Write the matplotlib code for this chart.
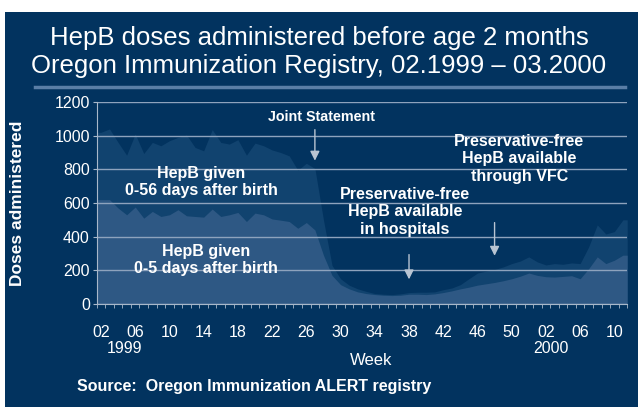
import numpy as np
import matplotlib.pyplot as plt
from matplotlib.patches import Rectangle
from matplotlib.lines import Line2D

plt.rcParams['font.family'] = ['Liberation Sans', 'DejaVu Sans']

# weeks 02/1999 .. 11/2000
weeks_1999 = list(range(2, 53))
weeks_2000 = list(range(1, 12))
week_labels = [f"{w:02d}" for w in weeks_1999 + weeks_2000]

# HepB given 0-56 days after birth (total)
doses_0_56 = [1020, 1040, 960, 884, 1010, 894, 960, 940, 970, 990,
              1004, 930, 910, 1036, 960, 950, 976, 884, 956, 940,
              915, 900, 880, 795, 836, 805, 500, 230, 150, 112,
              90, 75, 62, 58, 56, 60, 68, 70, 70, 72,
              85, 95, 115, 150, 184, 195, 205, 220, 240, 255,
              280, 250, 232, 240, 236, 244, 240, 340, 470, 416,
              430, 500]
# HepB given 0-5 days after birth
doses_0_5 = [620, 620, 570, 530, 576, 510, 550, 520, 530, 560,
             524, 520, 516, 564, 520, 530, 544, 490, 540, 530,
             505, 498, 490, 450, 484, 440, 290, 170, 115, 90,
             72, 62, 56, 52, 50, 52, 58, 58, 56, 60,
             68, 78, 90, 100, 112, 120, 128, 138, 150, 165,
             184, 170, 162, 160, 164, 168, 150, 210, 280, 240,
             260, 290]

bg = '#02335f'
upper_col = '#11436f'
lower_col = '#2e5884'
grid_col = '#8ea3bd'
axis_col = '#a9b8ca'

fig = plt.figure(figsize=(6.38, 4.07), dpi=100, facecolor='white')
fig.patches.append(Rectangle((5 / 638, 0), 1, 1 - 12 / 407, transform=fig.transFigure,
                             facecolor=bg, edgecolor='none', zorder=-10))

# title + underline
fig.text(0.5, 1 - 38 / 407, "HepB doses administered before age 2 months",
         ha='center', va='center', color='white', fontsize=18.5)
fig.text(0.5, 1 - 66 / 407, "Oregon Immunization Registry, 02.1999 \u2013 03.2000",
         ha='center', va='center', color='white', fontsize=18.5)
fig.lines.append(Line2D([35 / 638, 625 / 638], [1 - 87 / 407, 1 - 87 / 407],
                        transform=fig.transFigure, color='#5a7ea6', lw=2.5))

ax = fig.add_axes([96.7 / 638, 103 / 407, 530.5 / 638, 202 / 407])
ax.set_facecolor('none')

x = np.arange(len(week_labels))
xe = np.r_[x[0] - 0.5, x, x[-1] + 0.5]
tot = np.r_[doses_0_56[0], doses_0_56, doses_0_56[-1]]
low = np.r_[doses_0_5[0], doses_0_5, doses_0_5[-1]]

ax.fill_between(xe, 0, tot, color=upper_col, lw=0, zorder=1)
ax.fill_between(xe, 0, low, color=lower_col, lw=0, zorder=2)

ax.set_xlim(-0.5, len(x) - 0.5)
ax.set_ylim(0, 1200)
ax.set_yticks(range(0, 1201, 200))
ax.yaxis.grid(True, color=grid_col, lw=1)
ax.set_axisbelow(False)
for line in ax.get_ygridlines():
    line.set_zorder(3)

ax.set_xticks(x[::4])
ax.set_xticklabels(week_labels[::4])
ax.set_xticks(np.arange(len(x) + 1) - 0.5, minor=True)
ax.tick_params(axis='x', which='major', length=0, pad=15, labelsize=11.5, colors='white')
ax.tick_params(axis='x', which='minor', length=3, color=axis_col, direction='out')
ax.tick_params(axis='y', length=3, color=axis_col, labelsize=11.5, labelcolor='white', pad=2)

for s in ['top', 'right']:
    ax.spines[s].set_visible(False)
for s in ['left', 'bottom']:
    ax.spines[s].set_color(axis_col)
    ax.spines[s].set_zorder(4)

ax.set_ylabel("Doses administered", color='white', fontsize=12.5, fontweight='bold')
ax.yaxis.set_label_coords(-0.135, 0.5)

# year + axis captions
ax.text(2.7, -0.22, "1999", transform=ax.get_xaxis_transform(), ha='center', va='center',
        color='white', fontsize=11.5)
ax.text(52.6, -0.22, "2000", transform=ax.get_xaxis_transform(), ha='center', va='center',
        color='white', fontsize=11.5)
ax.text(0.518, -0.28, "Week", transform=ax.transAxes, ha='center', va='center',
        color='white', fontsize=12)
fig.text(77 / 638, 1 - 386 / 407, "Source:  Oregon Immunization ALERT registry",
         ha='left', va='center', color='white', fontsize=11.5, fontweight='bold')

# annotations
txt = dict(color='white', fontsize=11.5, fontweight='bold', ha='center', va='center',
           zorder=6, linespacing=1.2)
ax.text(11.7, 725, "HepB given\n0-56 days after birth", **txt)
ax.text(12.3, 261, "HepB given\n0-5 days after birth", **txt)
ax.text(35.5, 547, "Preservative-free\nHepB available\nin hospitals", **txt)
ax.text(48.9, 862, "Preservative-free\nHepB available\nthrough VFC", **txt)
ax.text(25.8, 1112, "Joint Statement", color='white', fontsize=10.3, fontweight='bold',
        ha='center', va='center', zorder=6)

arr = dict(arrowstyle='-|>', color='#b9c5d3', lw=1, mutation_scale=14)
ax.annotate('', xy=(25, 835), xytext=(25, 1052), arrowprops=arr, zorder=6)
ax.annotate('', xy=(36, 130), xytext=(36, 310), arrowprops=arr, zorder=6)
ax.annotate('', xy=(46, 270), xytext=(46, 500), arrowprops=arr, zorder=6)

fig.savefig('out.png', dpi=100, facecolor=fig.get_facecolor())
